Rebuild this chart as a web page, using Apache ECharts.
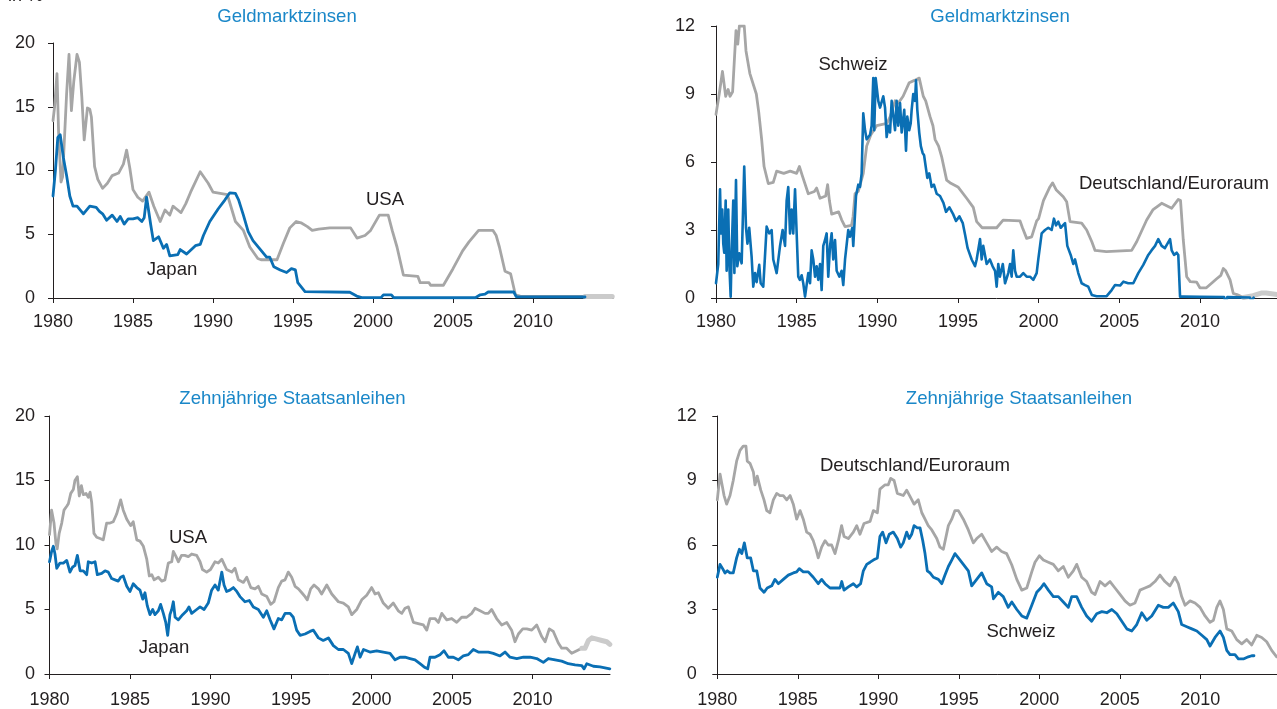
<!DOCTYPE html>
<html><head><meta charset="utf-8">
<script src="https://cdn.jsdelivr.net/npm/echarts@6.0.0/dist/echarts.min.js"></script>
<style>html,body{margin:0;padding:0;background:#fff}#c{width:1277px;height:709px}</style>
</head><body><div id="c"></div><script>
// ---------- DATA ([year, value in %]) ----------
const yearTicks = [1980, 1985, 1990, 1995, 2000, 2005, 2010];
const ticksLeft = [0, 5, 10, 15, 20];
const ticksRight = [0, 3, 6, 9, 12];

// Geldmarktzinsen – USA (grey) and Japan (blue)
const usaMoney = [[1980.0,13.9],[1980.1,15.0],[1980.25,17.6],[1980.35,13],[1980.5,9.1],[1980.6,9.5],[1980.85,16],[1981.0,19.1],[1981.15,14.7],[1981.3,17],[1981.5,19.1],[1981.65,18.5],[1981.8,15.8],[1981.95,12.4],[1982.15,14.9],[1982.3,14.8],[1982.4,14.2],[1982.6,10.3],[1982.8,9.3],[1983.1,8.6],[1983.4,9.0],[1983.7,9.6],[1984.1,9.8],[1984.4,10.5],[1984.6,11.6],[1984.8,10.2],[1985.0,8.5],[1985.3,7.9],[1985.6,7.6],[1986.0,8.3],[1986.3,7.2],[1986.7,6.0],[1987.0,6.9],[1987.3,6.5],[1987.5,7.2],[1987.7,7.0],[1988.0,6.7],[1988.3,7.4],[1988.6,8.3],[1989.2,9.9],[1989.7,9.0],[1990.0,8.3],[1990.9,8.1],[1991.4,6.0],[1991.9,5.3],[1992.3,4.0],[1992.8,3.1],[1993.0,3.0],[1994.0,3.0],[1994.4,4.3],[1994.8,5.5],[1995.2,6.0],[1995.5,5.9],[1995.9,5.6],[1996.2,5.3],[1996.6,5.4],[1997.3,5.5],[1998.6,5.5],[1999.0,4.7],[1999.5,4.9],[1999.85,5.3],[2000.4,6.5],[2000.95,6.5],[2001.2,5.3],[2001.5,4.0],[2001.9,1.8],[2002.8,1.7],[2002.95,1.2],[2003.5,1.2],[2003.6,1.0],[2004.4,1.0],[2005.0,2.3],[2005.6,3.7],[2006.0,4.4],[2006.6,5.3],[2007.5,5.3],[2007.7,4.9],[2007.9,4.0],[2008.25,2.1],[2008.6,1.9],[2008.9,0.25],[2009.2,0.15],[2013.25,0.12]];
const usaMoneyRecent = [[2013.25,0.12],[2014.95,0.12]];
const japanMoney = [[1980.0,8.0],[1980.15,10],[1980.3,12.6],[1980.45,12.8],[1980.65,11],[1980.85,9.6],[1981.05,8.0],[1981.25,7.2],[1981.5,7.2],[1981.9,6.6],[1982.3,7.2],[1982.7,7.1],[1982.9,6.8],[1983.1,6.6],[1983.35,6.1],[1983.7,6.5],[1984.0,6.0],[1984.2,6.4],[1984.45,5.8],[1984.7,6.2],[1985.0,6.2],[1985.3,6.3],[1985.55,6.0],[1985.7,6.3],[1985.85,7.9],[1986.1,5.8],[1986.27,4.5],[1986.6,4.8],[1986.9,3.9],[1987.1,4.2],[1987.3,3.3],[1987.8,3.4],[1987.95,3.8],[1988.35,3.45],[1988.9,4.1],[1989.2,4.2],[1989.4,4.9],[1989.8,6.0],[1990.33,7.0],[1990.75,7.7],[1991.05,8.25],[1991.4,8.2],[1991.6,7.7],[1991.9,6.5],[1992.2,5.2],[1992.5,4.5],[1992.9,3.9],[1993.35,3.2],[1993.55,3.2],[1993.8,2.45],[1994.2,2.2],[1994.6,2.0],[1994.9,2.3],[1995.15,2.2],[1995.3,1.2],[1995.75,0.5],[1998.55,0.45],[1998.98,0.15],[1999.3,0.03],[2000.5,0.03],[2000.65,0.24],[2001.15,0.24],[2001.3,0.02],[2006.4,0.02],[2006.7,0.25],[2007.0,0.3],[2007.2,0.47],[2008.8,0.47],[2008.95,0.1],[2013.25,0.08]];

// Geldmarktzinsen – Deutschland/Euroraum (grey) and Schweiz (blue)
const euroMoney = [[1980.0,8.1],[1980.2,9.0],[1980.4,10.0],[1980.6,8.9],[1980.75,9.2],[1980.87,8.9],[1981.03,9.1],[1981.24,11.8],[1981.35,11.2],[1981.45,12.0],[1981.75,12.0],[1981.86,10.9],[1982.1,9.9],[1982.5,9.0],[1982.65,8.2],[1982.83,7.0],[1982.98,5.8],[1983.24,5.05],[1983.55,5.1],[1983.76,5.6],[1984.2,5.5],[1984.6,5.6],[1985.0,5.5],[1985.17,5.8],[1985.35,5.4],[1985.72,4.6],[1986.1,4.7],[1986.24,4.85],[1986.45,4.4],[1986.8,4.5],[1986.92,5.0],[1987.03,4.3],[1987.17,3.7],[1987.6,3.8],[1987.79,3.45],[1988.0,3.15],[1988.4,3.2],[1988.5,3.6],[1988.62,4.6],[1988.82,4.7],[1989.13,5.5],[1989.34,6.7],[1989.6,7.2],[1989.96,7.6],[1990.6,7.7],[1990.8,8.0],[1991.1,8.7],[1991.3,8.6],[1991.6,8.9],[1991.98,9.5],[1992.3,9.6],[1992.6,9.7],[1992.85,8.9],[1993.0,8.7],[1993.27,8.0],[1993.45,7.6],[1993.58,7.0],[1993.8,6.7],[1994.0,6.2],[1994.3,5.2],[1994.56,5.06],[1995.0,4.9],[1995.54,4.4],[1995.95,4.0],[1996.16,3.37],[1996.5,3.1],[1997.4,3.1],[1997.8,3.44],[1998.85,3.4],[1999.0,3.1],[1999.26,2.63],[1999.57,2.7],[1999.88,3.4],[2000.0,3.5],[2000.3,4.3],[2000.7,4.9],[2000.87,5.08],[2001.1,4.76],[2001.53,4.47],[2001.74,4.25],[2001.95,3.37],[2002.67,3.3],[2002.98,3.0],[2003.3,2.48],[2003.5,2.1],[2004.2,2.05],[2005.77,2.1],[2006.08,2.48],[2006.7,3.44],[2007.1,3.9],[2007.63,4.18],[2008.25,3.96],[2008.66,4.35],[2008.8,4.3],[2008.97,2.56],[2009.18,0.94],[2009.4,0.72],[2009.8,0.7],[2010.0,0.45],[2010.4,0.45],[2010.83,0.72],[2011.04,0.85],[2011.3,1.0],[2011.45,1.3],[2011.6,1.2],[2011.87,0.8],[2012.07,0.2],[2012.3,0.15],[2012.7,0.02]];
const euroMoneyRecent = [[2012.7,0.02],[2013.3,0.1],[2013.8,0.22],[2014.1,0.22],[2014.8,0.15]];
const swissMoney = [[1980.0,0.65],[1980.14,1.5],[1980.25,4.8],[1980.31,2.85],[1980.39,3.9],[1980.45,2.4],[1980.51,2.0],[1980.6,4.3],[1980.66,1.2],[1980.76,3.9],[1980.83,1.4],[1980.91,0.06],[1980.97,2.0],[1981.07,4.3],[1981.14,1.1],[1981.24,5.2],[1981.32,1.4],[1981.44,1.97],[1981.59,1.53],[1981.75,5.8],[1981.86,3.1],[1981.95,2.4],[1982.06,3.1],[1982.21,1.8],[1982.31,0.5],[1982.42,1.1],[1982.52,0.7],[1982.68,1.46],[1982.77,0.65],[1982.93,0.5],[1983.14,3.15],[1983.3,2.85],[1983.45,3.0],[1983.55,1.7],[1983.76,1.1],[1983.97,2.3],[1984.13,3.0],[1984.28,2.3],[1984.38,4.3],[1984.48,4.9],[1984.59,2.85],[1984.69,3.9],[1984.79,2.85],[1984.9,4.8],[1985.0,4.8],[1985.1,0.94],[1985.2,0.8],[1985.31,1.0],[1985.41,0.65],[1985.52,0.06],[1985.72,1.1],[1985.83,0.65],[1985.93,2.1],[1986.03,1.7],[1986.14,0.94],[1986.24,1.4],[1986.34,0.8],[1986.45,1.5],[1986.55,0.35],[1986.65,2.3],[1986.76,2.56],[1986.86,2.85],[1986.96,0.94],[1987.07,2.3],[1987.17,2.85],[1987.27,1.7],[1987.38,2.56],[1987.48,1.2],[1987.65,0.94],[1987.79,1.2],[1987.89,0.57],[1988.0,1.7],[1988.2,3.0],[1988.3,2.7],[1988.45,3.1],[1988.51,2.3],[1988.68,4.5],[1988.82,5.0],[1988.93,4.9],[1989.03,5.5],[1989.13,8.15],[1989.24,7.4],[1989.34,7.0],[1989.55,7.2],[1989.65,7.6],[1989.75,9.7],[1989.81,7.4],[1989.9,9.7],[1990.0,9.7],[1990.06,8.7],[1990.17,8.4],[1990.37,8.9],[1990.48,8.4],[1990.58,7.1],[1990.68,7.6],[1990.79,7.3],[1990.89,8.7],[1991.0,8.0],[1991.1,7.4],[1991.2,8.7],[1991.3,7.6],[1991.41,8.6],[1991.51,7.3],[1991.67,8.3],[1991.78,6.5],[1991.86,8.0],[1991.98,7.4],[1992.07,7.7],[1992.13,8.3],[1992.23,9.0],[1992.34,8.7],[1992.4,9.6],[1992.48,8.3],[1992.6,7.3],[1992.7,6.7],[1992.81,6.4],[1992.9,6.3],[1993.0,5.8],[1993.1,5.3],[1993.22,5.5],[1993.37,4.9],[1993.51,5.0],[1993.68,4.6],[1993.89,4.5],[1994.1,4.2],[1994.26,3.8],[1994.47,4.0],[1994.7,3.7],[1994.88,3.4],[1995.09,3.6],[1995.3,3.3],[1995.44,2.8],[1995.6,2.2],[1995.85,1.7],[1996.06,1.4],[1996.16,1.7],[1996.37,2.6],[1996.47,1.7],[1996.57,2.3],[1996.78,1.5],[1996.98,1.7],[1997.15,1.4],[1997.3,1.2],[1997.4,0.5],[1997.5,1.5],[1997.6,0.94],[1997.78,1.5],[1997.92,0.65],[1998.12,1.1],[1998.23,1.5],[1998.33,0.94],[1998.43,2.1],[1998.54,1.2],[1998.64,0.94],[1998.85,0.94],[1999.05,1.1],[1999.26,0.94],[1999.47,0.94],[1999.67,0.8],[1999.88,1.1],[1999.98,1.7],[2000.19,2.85],[2000.4,3.0],[2000.6,3.1],[2000.81,3.0],[2000.95,3.5],[2001.08,3.2],[2001.22,3.37],[2001.37,3.1],[2001.64,3.3],[2001.78,2.3],[2001.99,1.9],[2002.15,1.5],[2002.26,1.7],[2002.46,1.1],[2002.67,0.65],[2002.88,0.57],[2003.08,0.5],[2003.3,0.13],[2003.6,0.08],[2004.22,0.08],[2004.53,0.35],[2004.74,0.57],[2005.05,0.55],[2005.26,0.72],[2005.56,0.65],[2005.87,0.65],[2006.18,1.1],[2006.49,1.46],[2006.8,1.9],[2007.0,2.1],[2007.22,2.3],[2007.42,2.6],[2007.63,2.3],[2007.83,2.2],[2007.94,2.2],[2008.15,2.6],[2008.25,2.1],[2008.4,1.9],[2008.56,2.0],[2008.66,1.9],[2008.77,0.06],[2008.97,0.06],[2010.0,0.05],[2011.5,0.04],[2011.62,-0.26],[2011.7,0.04],[2013.1,0.02],[2013.2,-0.15],[2013.33,0.02]];

// Zehnjährige Staatsanleihen – USA (grey) and Japan (blue)
const usaBond = [[1980.0,10.8],[1980.13,12.7],[1980.28,11.7],[1980.4,10.1],[1980.48,9.7],[1980.6,10.9],[1980.76,11.7],[1980.9,12.7],[1981.07,13.0],[1981.17,13.2],[1981.32,14.0],[1981.48,14.3],[1981.58,15.0],[1981.73,15.3],[1981.85,13.8],[1981.98,14.6],[1982.1,13.9],[1982.27,14.0],[1982.41,13.7],[1982.52,14.1],[1982.62,13.3],[1982.76,10.9],[1982.93,10.6],[1983.14,10.5],[1983.34,10.4],[1983.55,11.7],[1983.76,11.7],[1983.96,11.8],[1984.17,12.4],[1984.42,13.5],[1984.58,12.7],[1984.8,12.0],[1985.04,11.5],[1985.2,11.8],[1985.42,10.4],[1985.62,10.3],[1985.83,9.9],[1986.04,8.9],[1986.2,7.6],[1986.35,7.7],[1986.5,7.3],[1986.76,7.5],[1986.97,7.2],[1987.17,7.3],[1987.38,8.6],[1987.59,8.7],[1987.69,9.5],[1987.86,9.1],[1988.0,8.7],[1988.2,9.2],[1988.4,9.2],[1988.62,9.1],[1988.83,9.3],[1989.14,9.2],[1989.35,8.7],[1989.5,8.1],[1989.76,7.9],[1990.0,8.1],[1990.28,8.7],[1990.48,8.6],[1990.7,8.9],[1991.0,8.1],[1991.32,7.9],[1991.52,8.2],[1991.73,7.3],[1992.04,7.1],[1992.25,7.5],[1992.5,6.7],[1992.76,6.6],[1992.97,6.8],[1993.18,6.2],[1993.5,6.0],[1993.74,5.4],[1993.94,5.6],[1994.21,6.7],[1994.42,7.2],[1994.63,7.3],[1994.83,7.9],[1995.04,7.5],[1995.25,6.8],[1995.46,6.6],[1995.67,6.3],[1995.87,6.0],[1996.01,5.75],[1996.22,6.6],[1996.43,6.9],[1996.7,6.6],[1996.9,6.2],[1997.22,6.9],[1997.53,6.2],[1997.94,5.6],[1998.25,5.5],[1998.56,5.2],[1998.77,4.6],[1999.08,5.0],[1999.39,5.75],[1999.7,6.1],[2000.01,6.7],[2000.22,6.2],[2000.42,6.3],[2000.73,5.5],[2001.04,5.1],[2001.35,5.5],[2001.66,4.9],[2001.88,4.7],[2002.08,5.1],[2002.29,5.2],[2002.6,4.0],[2002.9,3.9],[2003.22,3.8],[2003.43,3.4],[2003.63,4.3],[2003.94,4.3],[2004.15,4.0],[2004.36,4.7],[2004.67,4.2],[2004.98,4.3],[2005.29,4.0],[2005.6,4.4],[2005.91,4.4],[2006.22,4.7],[2006.43,5.1],[2006.74,4.9],[2007.05,4.7],[2007.25,4.7],[2007.46,5.0],[2007.77,4.3],[2008.08,3.8],[2008.4,4.0],[2008.7,3.4],[2008.91,2.5],[2009.12,3.1],[2009.39,3.5],[2009.64,3.5],[2009.95,3.4],[2010.26,3.8],[2010.57,2.9],[2010.78,2.5],[2011.04,3.5],[2011.29,3.3],[2011.6,2.4],[2011.81,2.0],[2012.12,2.0],[2012.43,1.6],[2012.75,1.8],[2013.06,2.0]];
const usaBondRecent = [[2013.06,2.0],[2013.26,2.0],[2013.47,2.6],[2013.68,2.8],[2013.99,2.7],[2014.3,2.6],[2014.61,2.5],[2014.8,2.3]];
const japanBond = [[1980.0,8.7],[1980.13,9.5],[1980.24,9.9],[1980.34,9.3],[1980.45,8.2],[1980.65,8.6],[1980.86,8.6],[1981.07,8.8],[1981.27,7.9],[1981.44,8.3],[1981.58,8.4],[1981.73,9.2],[1981.9,8.0],[1982.1,8.0],[1982.31,7.7],[1982.41,8.7],[1982.62,8.6],[1982.83,8.7],[1982.97,7.7],[1983.24,7.8],[1983.45,8.0],[1983.65,7.9],[1983.86,7.4],[1984.07,7.3],[1984.27,7.2],[1984.42,7.5],[1984.58,7.6],[1984.8,6.8],[1985.0,6.4],[1985.2,7.0],[1985.42,6.7],[1985.62,6.5],[1985.79,5.8],[1985.93,6.3],[1986.07,5.3],[1986.24,4.6],[1986.41,5.0],[1986.55,4.6],[1986.76,4.9],[1986.9,5.4],[1987.07,4.7],[1987.22,4.0],[1987.34,3.0],[1987.48,4.6],[1987.59,5.0],[1987.69,5.6],[1987.8,4.4],[1988.0,4.2],[1988.27,4.6],[1988.52,4.9],[1988.66,5.2],[1988.83,4.7],[1989.14,5.0],[1989.35,5.2],[1989.6,5.0],[1989.86,5.5],[1990.07,6.5],[1990.28,6.9],[1990.48,6.5],[1990.7,7.9],[1990.84,6.9],[1991.0,6.4],[1991.2,6.5],[1991.42,6.7],[1991.63,6.4],[1991.83,6.0],[1992.14,5.6],[1992.41,5.7],[1992.66,5.2],[1992.97,5.0],[1993.28,4.4],[1993.49,4.9],[1993.7,4.2],[1993.94,3.5],[1994.21,4.3],[1994.42,4.2],[1994.63,4.7],[1994.94,4.7],[1995.14,4.4],[1995.35,3.4],[1995.56,3.0],[1995.87,3.1],[1996.18,3.3],[1996.39,3.4],[1996.7,2.8],[1997.0,2.6],[1997.32,2.8],[1997.63,2.2],[1997.94,1.9],[1998.25,1.9],[1998.56,1.6],[1998.77,0.8],[1998.98,1.6],[1999.12,2.1],[1999.29,1.3],[1999.5,1.9],[1999.9,1.7],[2000.32,1.8],[2000.73,1.7],[2001.15,1.6],[2001.46,1.1],[2001.77,1.3],[2002.08,1.3],[2002.39,1.2],[2002.7,1.1],[2003.01,0.8],[2003.32,0.5],[2003.49,0.4],[2003.63,1.3],[2003.94,1.3],[2004.25,1.5],[2004.5,1.8],[2004.77,1.3],[2005.08,1.3],[2005.39,1.1],[2005.7,1.4],[2006.01,1.5],[2006.32,1.9],[2006.63,1.7],[2006.94,1.7],[2007.25,1.7],[2007.56,1.6],[2007.98,1.4],[2008.29,1.7],[2008.6,1.3],[2009.02,1.2],[2009.43,1.3],[2009.85,1.3],[2010.26,1.2],[2010.67,0.9],[2010.98,1.2],[2011.4,1.1],[2011.81,1.0],[2012.22,0.8],[2012.64,0.7],[2013.06,0.65],[2013.2,0.4],[2013.37,0.8],[2013.78,0.6],[2014.19,0.55],[2014.8,0.4]];

// Zehnjährige Staatsanleihen – Deutschland/Euroraum (grey) and Schweiz (blue)
const euroBond = [[1980.0,8.1],[1980.17,9.3],[1980.27,9.3],[1980.42,8.3],[1980.58,7.9],[1980.79,8.3],[1980.99,9.0],[1981.2,9.9],[1981.41,10.4],[1981.61,10.6],[1981.78,10.6],[1981.86,9.9],[1982.03,9.8],[1982.24,9.4],[1982.34,8.8],[1982.48,9.2],[1982.7,8.55],[1982.9,8.1],[1983.07,7.6],[1983.27,7.5],[1983.48,8.1],[1983.69,8.4],[1983.89,8.3],[1984.1,8.3],[1984.31,8.1],[1984.52,8.3],[1984.72,7.9],[1984.93,7.2],[1985.14,7.6],[1985.34,7.2],[1985.55,6.6],[1985.76,6.5],[1985.96,6.2],[1986.13,5.8],[1986.27,5.4],[1986.48,5.9],[1986.69,6.2],[1986.89,6.0],[1987.1,6.0],[1987.31,5.6],[1987.52,6.2],[1987.72,6.9],[1987.87,6.4],[1988.14,6.3],[1988.45,6.6],[1988.66,6.9],[1988.86,6.5],[1989.11,7.0],[1989.49,7.1],[1989.69,7.6],[1989.94,7.5],[1990.1,8.6],[1990.42,8.8],[1990.62,8.8],[1990.77,9.1],[1990.98,9.0],[1991.18,8.4],[1991.55,8.3],[1991.76,8.55],[1992.01,8.2],[1992.22,7.9],[1992.48,8.1],[1992.7,7.5],[1992.9,7.2],[1993.1,6.9],[1993.32,6.7],[1993.63,6.3],[1993.83,5.9],[1994.04,5.8],[1994.35,6.9],[1994.56,7.2],[1994.76,7.6],[1994.97,7.6],[1995.28,7.2],[1995.59,6.7],[1995.9,6.1],[1996.11,6.3],[1996.42,6.5],[1996.73,6.1],[1997.04,5.7],[1997.35,5.9],[1997.66,5.7],[1997.97,5.6],[1998.29,5.07],[1998.6,4.4],[1998.91,3.9],[1999.22,4.0],[1999.53,4.75],[1999.73,5.2],[2000.0,5.5],[2000.25,5.3],[2000.56,5.2],[2000.87,5.1],[2001.18,4.8],[2001.49,5.0],[2001.8,4.5],[2002.11,4.8],[2002.32,5.1],[2002.63,4.5],[2002.94,4.3],[2003.25,3.8],[2003.46,3.7],[2003.77,4.3],[2004.08,4.1],[2004.39,4.3],[2004.7,4.0],[2005.01,3.7],[2005.32,3.4],[2005.63,3.2],[2005.94,3.3],[2006.25,3.9],[2006.56,4.0],[2006.87,4.1],[2007.18,4.3],[2007.49,4.6],[2007.8,4.3],[2008.11,4.1],[2008.42,4.5],[2008.63,4.2],[2008.84,3.6],[2009.05,3.2],[2009.36,3.4],[2009.67,3.3],[2009.98,3.1],[2010.29,2.7],[2010.6,2.4],[2010.81,2.5],[2011.02,3.1],[2011.22,3.4],[2011.43,3.0],[2011.64,2.1],[2011.95,2.0],[2012.26,1.6],[2012.57,1.4],[2012.88,1.6],[2013.19,1.35],[2013.5,1.8],[2013.81,1.7],[2014.12,1.5],[2014.43,1.1],[2014.74,0.8]];
const swissBond = [[1980.0,4.5],[1980.17,5.1],[1980.33,4.9],[1980.48,4.7],[1980.62,4.8],[1980.79,4.7],[1980.99,4.7],[1981.2,5.4],[1981.37,5.8],[1981.52,5.6],[1981.68,6.1],[1981.86,5.4],[1982.07,5.4],[1982.24,4.8],[1982.45,4.8],[1982.65,4.0],[1982.9,3.8],[1983.1,4.0],[1983.38,4.1],[1983.58,4.4],[1983.79,4.2],[1984.1,4.4],[1984.41,4.6],[1984.72,4.7],[1984.93,4.75],[1985.09,4.9],[1985.34,4.75],[1985.65,4.75],[1985.96,4.5],[1986.27,4.2],[1986.48,4.4],[1986.69,4.2],[1987.0,4.0],[1987.31,4.0],[1987.62,4.0],[1987.73,4.3],[1987.87,3.9],[1988.14,4.05],[1988.45,4.2],[1988.66,4.05],[1988.9,4.2],[1989.07,4.8],[1989.28,5.1],[1989.49,5.2],[1989.69,5.3],[1989.94,5.4],[1990.1,6.4],[1990.27,6.6],[1990.48,6.1],[1990.68,6.5],[1990.93,6.6],[1991.18,6.3],[1991.39,5.9],[1991.55,6.1],[1991.76,6.6],[1991.92,6.3],[1992.07,6.5],[1992.22,6.9],[1992.42,6.8],[1992.59,6.8],[1992.76,6.2],[1992.9,5.6],[1993.04,4.8],[1993.21,4.7],[1993.42,4.5],[1993.73,4.4],[1993.94,4.2],[1994.14,4.6],[1994.35,5.0],[1994.56,5.3],[1994.76,5.6],[1994.97,5.4],[1995.28,5.1],[1995.59,4.8],[1995.8,4.1],[1996.11,4.4],[1996.42,4.7],[1996.73,4.2],[1997.04,4.05],[1997.15,3.5],[1997.45,3.8],[1997.76,3.6],[1998.07,3.1],[1998.29,3.35],[1998.6,3.0],[1998.91,2.7],[1999.22,2.6],[1999.53,3.2],[1999.84,3.8],[2000.09,4.0],[2000.29,4.2],[2000.56,3.9],[2000.87,3.6],[2001.18,3.6],[2001.49,3.35],[2001.8,3.1],[2002.01,3.6],[2002.32,3.6],[2002.63,3.1],[2002.94,2.7],[2003.25,2.45],[2003.56,2.8],[2003.88,2.9],[2004.19,2.85],[2004.5,3.0],[2004.81,2.8],[2005.12,2.45],[2005.43,2.1],[2005.74,2.0],[2006.05,2.3],[2006.36,2.85],[2006.67,2.5],[2006.98,2.7],[2007.39,3.2],[2007.7,3.1],[2008.01,3.1],[2008.32,3.3],[2008.63,2.9],[2008.84,2.3],[2009.16,2.2],[2009.47,2.1],[2009.78,2.0],[2010.09,1.8],[2010.4,1.6],[2010.6,1.3],[2010.91,1.7],[2011.22,2.0],[2011.43,1.7],[2011.64,1.1],[2011.84,0.9],[2012.15,0.9],[2012.36,0.7],[2012.67,0.7],[2012.98,0.8],[2013.19,0.85],[2013.33,0.85]];

// ---------- STYLE ----------
const BLUE = '#0a6fb4', GREY = '#a6a6a6', LIGHT = '#cbcbcb', TITLE = '#1a87c8', INK = '#231f20';
const FONT = '"Liberation Sans", Arial, Helvetica, sans-serif';

const panels = [
  {grid:{left:53, top:43, width:560, height:255}, xmax:2015, ymax:20, step:5, ticks:ticksLeft, ym:18, xm:15},
  {grid:{left:716, top:26, width:561, height:272}, xmax:2014.78, ymax:12, step:3, ticks:ticksRight, ym:21, xm:15},
  {grid:{left:49.5, top:416, width:560.5, height:258}, xmax:2014.81, ymax:20, step:5, ticks:ticksLeft, ym:14.5, xm:17},
  {grid:{left:717.3, top:416, width:559.7, height:258}, xmax:2014.76, ymax:12, step:3, ticks:ticksRight, ym:20.5, xm:17}
];

const axisLine = {show:true, lineStyle:{color:INK, width:1}};
const axisTick = {show:true, length:5, lineStyle:{color:INK, width:1}};
const labelStyle = {color:INK, fontSize:18, fontFamily:FONT};

const option = {
  animation:false,
  backgroundColor:'#ffffff',
  grid: panels.map(p => Object.assign({containLabel:false}, p.grid)),
  xAxis: panels.map((p,i) => ({
    type:'value', gridIndex:i, min:1980, max:p.xmax,
    axisLine, splitLine:{show:false},
    axisTick:Object.assign({customValues:yearTicks}, axisTick),
    axisLabel:Object.assign({customValues:yearTicks, margin:p.xm, formatter:v=>String(v)}, labelStyle)
  })),
  yAxis: panels.map((p,i) => ({
    type:'value', gridIndex:i, min:0, max:p.ymax, interval:p.step,
    axisLine, splitLine:{show:false},
    axisTick:Object.assign({customValues:p.ticks}, axisTick),
    axisLabel:Object.assign({customValues:p.ticks, margin:p.ym}, labelStyle)
  })),
  series: []
};

function line(idx, data, color, width, z) {
  return {type:'line', xAxisIndex:idx, yAxisIndex:idx, data:data, showSymbol:false, symbol:'none',
          silent:true, z:z, lineStyle:{color:color, width:width, join:'round', cap:'round'}};
}
option.series.push(
  line(0, usaMoney, GREY, 2.8, 2), line(0, usaMoneyRecent, LIGHT, 5, 2), line(0, japanMoney, BLUE, 2.8, 3),
  line(1, euroMoney, GREY, 2.8, 2), line(1, euroMoneyRecent, LIGHT, 5, 2), line(1, swissMoney, BLUE, 2.6, 3),
  line(2, usaBond, GREY, 2.8, 2), line(2, usaBondRecent, LIGHT, 5, 2), line(2, japanBond, BLUE, 2.8, 3),
  line(3, euroBond, GREY, 2.8, 2), line(3, swissBond, BLUE, 2.8, 3)
);

function txt(text, x, y, color) {
  return {type:'text', x:x, y:y, silent:true,
          style:{text:text, fill:color||INK, font:'18.6px ' + FONT, textAlign:'center', textVerticalAlign:'middle'}};
}
option.graphic = [
  {type:'text', x:8, y:5, silent:true, style:{text:'in %', fill:INK, font:'18px ' + FONT, textAlign:'left', textVerticalAlign:'bottom'}},
  txt('Geldmarktzinsen', 287, 17, TITLE),
  txt('Geldmarktzinsen', 1000, 17, TITLE),
  txt('Zehnjährige Staatsanleihen', 292.5, 399, TITLE),
  txt('Zehnjährige Staatsanleihen', 1019, 399, TITLE),
  txt('USA', 385, 200), txt('Japan', 172, 270),
  txt('Schweiz', 853, 65), txt('Deutschland/Euroraum', 1174, 184),
  txt('USA', 188, 538), txt('Japan', 164, 648),
  txt('Deutschland/Euroraum', 915, 466), txt('Schweiz', 1021, 632)
];

const chart = echarts.init(document.getElementById('c'), null, {renderer:'canvas'});
chart.setOption(option);
</script></body></html>
